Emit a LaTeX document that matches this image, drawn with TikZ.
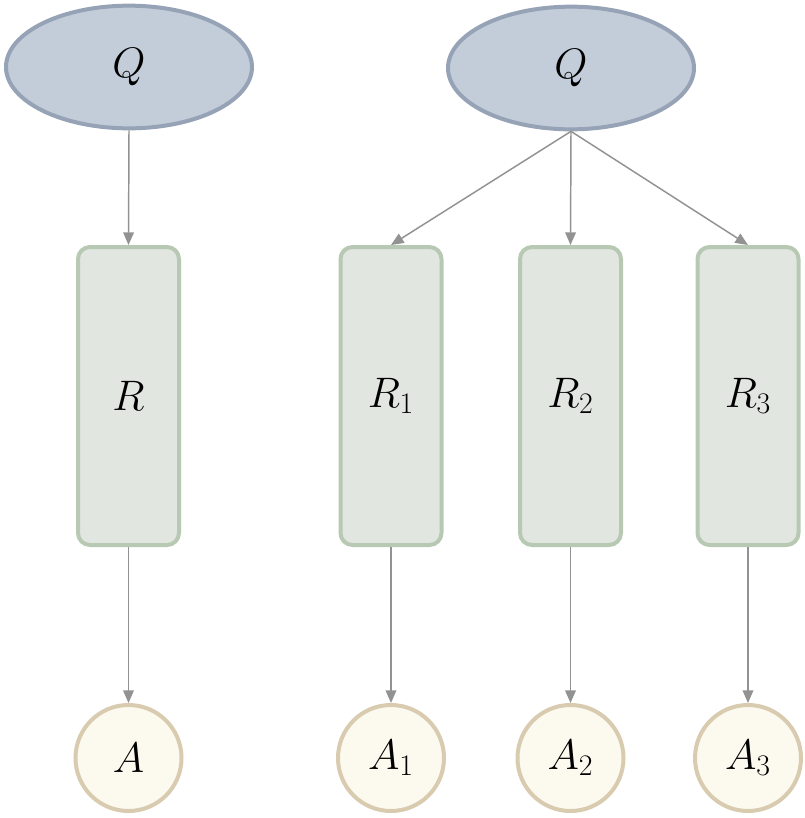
\documentclass[tikz,border=0pt]{standalone}
\usepackage{fix-cm}
\usepackage{xcolor}
\usetikzlibrary{shapes.geometric,arrows.meta}
\definecolor{qfill}{HTML}{C3CDD9}
\definecolor{qline}{HTML}{96A2B5}
\definecolor{rfill}{HTML}{E1E6E1}
\definecolor{rline}{HTML}{B7C9B2}
\definecolor{afill}{HTML}{FCFAEF}
\definecolor{aline}{HTML}{D9CBAF}
\definecolor{conngray}{HTML}{929292}
\begin{document}
\begin{tikzpicture}[x=0.75pt,y=-0.75pt,
    qnode/.style={ellipse,draw=qline,fill=qfill,line width=3pt,minimum width=184.5pt,minimum height=92pt,inner sep=0pt,font=\fontsize{32}{38}\selectfont},
    rbox/.style={rectangle,rounded corners=9pt,draw=rline,fill=rfill,line width=3pt,minimum width=75.75pt,minimum height=223.5pt,inner sep=0pt,font=\fontsize{32}{38}\selectfont},
    anode/.style={circle,draw=aline,fill=afill,line width=3pt,minimum size=79.5pt,inner sep=0pt,font=\fontsize{32}{38}\selectfont},
    conn/.style={draw=conngray,line width=1.1pt,-{Triangle[length=9.5pt,width=8pt]}}]
  \useasboundingbox (0,0) rectangle (805,818);
  \node[qnode] (q) at (129,67) {$Q$};
  \node[rbox] (r) at (128.5,396) {$R$};
  \node[anode] (a) at (128.5,758) {$A$};
  \draw[conn] (q.south) -- (r.north);
  \draw[conn] (r.south) -- (a.north);
  \node[qnode] (qq) at (571,68) {$Q$};
  \foreach \i/\x in {1/391,2/570.5,3/748}{
    \node[rbox] (r\i) at (\x,396) {$R_\i$};
    \node[anode] (a\i) at (\x,758) {$A_\i$};
    \draw[conn] (qq.south) -- (r\i.north);
    \draw[conn] (r\i.south) -- (a\i.north);
  }
\end{tikzpicture}
\end{document}
